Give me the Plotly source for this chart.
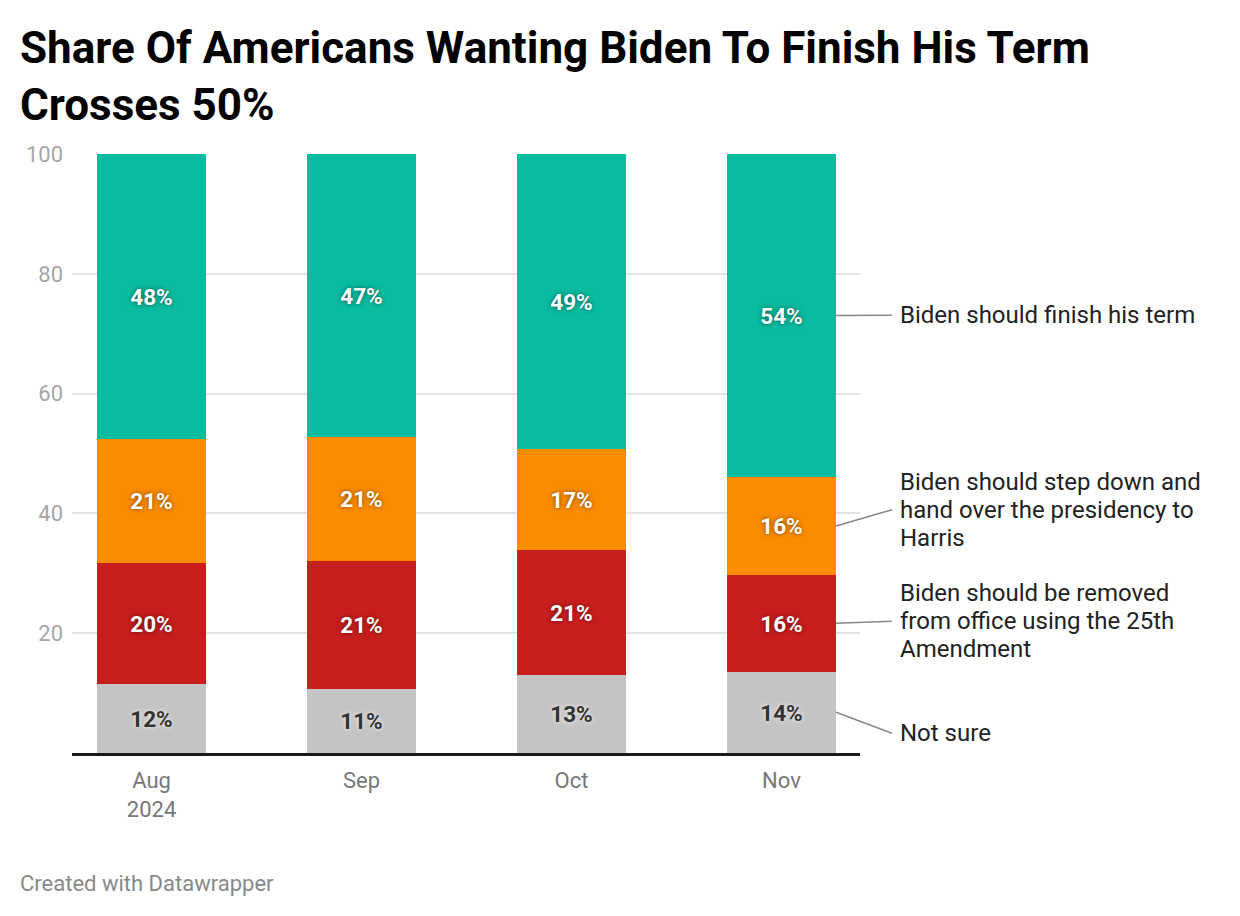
import plotly.graph_objects as go

months = ["Aug<br>2024", "Sep", "Oct", "Nov"]
series_names = [
    "Not sure",
    "Biden should be removed<br>from office using the 25th<br>Amendment",
    "Biden should step down and<br>hand over the presidency to<br>Harris",
    "Biden should finish his term",
]
not_sure = [11.6, 10.7, 13.0, 13.6]
removed = [20.2, 21.4, 20.9, 16.1]
step_down = [20.6, 20.7, 16.9, 16.4]
finish = [47.6, 47.2, 49.2, 53.9]
colors = ["#c4c4c4", "#c71e1d", "#fa8c00", "#09bb9f"]
label_y = [3.3, 22.0, 40.6, 73.1]  # where the right-side labels sit

values = [not_sure, removed, step_down, finish]
xs = list(range(len(months)))
XR = [-0.379, 3.374]
YR = [0, 100]
BW = 0.52
PLOT_H = 599  # pixels of plot height
LINE_PX = 28


def px(v):
    return (v - XR[0]) / (XR[1] - XR[0])


def py(v):
    return (v - YR[0]) / (YR[1] - YR[0])


fig = go.Figure()
for i, (name, vals, col) in enumerate(zip(series_names, values, colors)):
    dark = i == 0
    fig.add_trace(go.Bar(
        x=xs, y=vals, name=name, marker=dict(color=col, line=dict(width=0)),
        width=BW,
        text=[f"{round(v)}%" for v in vals],
        textposition="inside", insidetextanchor="middle", textangle=0,
        constraintext="none",
        textfont=dict(family="Roboto", size=22.5, weight="bold",
                      color="#333333" if dark else "#ffffff",
                      shadow="0px 0px 4px rgba(255,255,255,0.9)" if dark else "0px 0px 4px rgba(0,0,0,0.55)"),
        hoverinfo="skip",
    ))

# right-side labels with leader lines from last bar's segment midpoints
last = len(months) - 1
cum = 0
for i, (name, vals) in enumerate(zip(series_names, values)):
    mid = cum + vals[last] / 2
    cum += vals[last]
    fig.add_shape(type="line", xref="paper", yref="paper",
                  x0=px(last + BW / 2), y0=py(mid), x1=px(last + 0.526), y1=py(label_y[i]),
                  line=dict(color="#888888", width=1.5))
    lines = name.split("<br>")
    n = len(lines)
    for k, ln in enumerate(lines):
        off = ((n - 1) / 2 - k) * LINE_PX / PLOT_H
        fig.add_annotation(xref="paper", yref="paper", x=px(last + 0.555), y=py(label_y[i]) + off,
                           text=ln, showarrow=False, xanchor="left", yanchor="middle",
                           align="left", font=dict(family="Roboto", size=24, color="#222222"))

fig.add_annotation(xref="paper", yref="paper", xanchor="left", yanchor="top",
                   x=-54/788, y=1 + (154 - 20) / 599,
                   text="Share Of Americans Wanting Biden To Finish His Term<br>Crosses 50%",
                   showarrow=False, align="left",
                   font=dict(family="Roboto", size=44, weight="bold", color="#000000"))
fig.add_annotation(xref="paper", yref="paper", xanchor="left", yanchor="middle",
                   x=-54/788, y=-(883 - 753) / 599,
                   text="Created with Datawrapper", showarrow=False,
                   font=dict(family="Roboto", size=22, color="#888888"))

fig.update_layout(
    width=1240, height=916, barmode="stack", showlegend=False,
    plot_bgcolor="white", paper_bgcolor="white",
    margin=dict(l=72, r=380, t=154, b=163),
    font=dict(family="Roboto"),
    xaxis=dict(tickmode="array", tickvals=xs, ticktext=months, range=XR,
               showgrid=False, showline=True, linecolor="#1a1a1a", linewidth=2.5,
               ticks="", tickfont=dict(size=22, color="#777777"), fixedrange=True,
               ticklabelstandoff=6),
    yaxis=dict(range=YR, tickvals=[20, 40, 60, 80, 100], showgrid=True,
               gridcolor="#e3e3e3", gridwidth=1.5, zeroline=False, showline=False,
               ticks="", tickfont=dict(size=22, color="#a6a6a6"), ticklabelstandoff=8,
               fixedrange=True),
    bargap=0,
)

fig.write_html("out.html", config={"displayModeBar": False},
               post_script="document.body.style.margin='0';document.body.style.padding='0';")
